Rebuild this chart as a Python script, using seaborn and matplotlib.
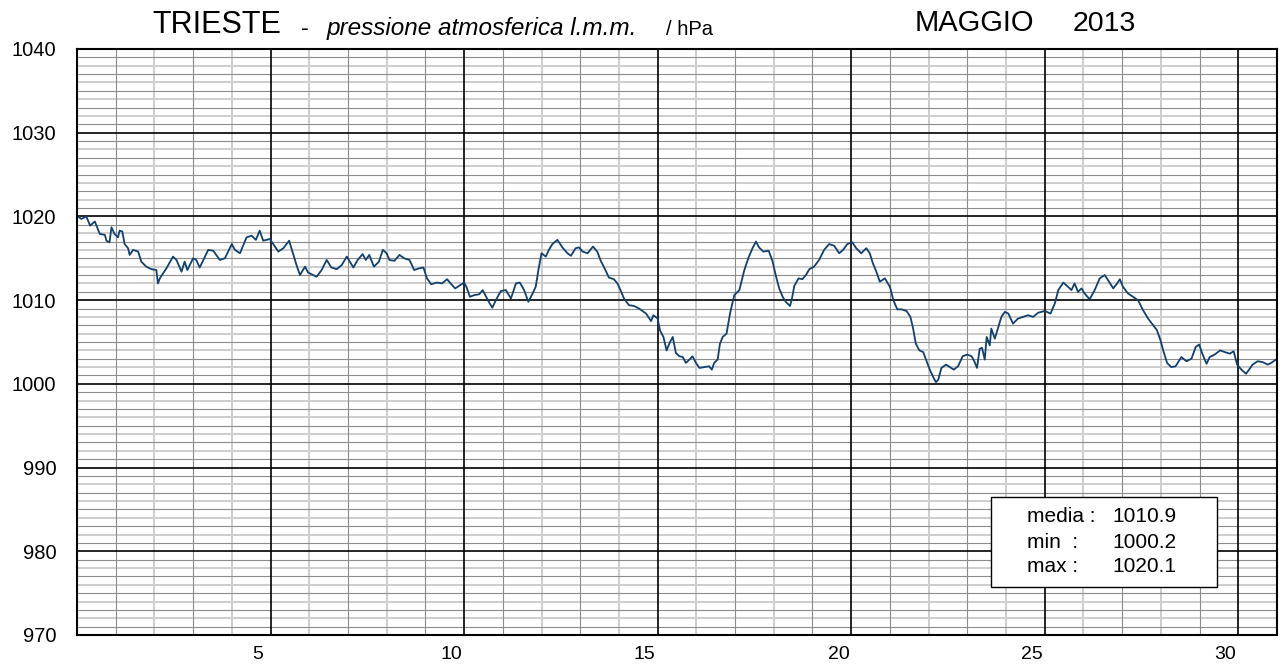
import matplotlib
matplotlib.use("Agg")
import matplotlib.pyplot as plt
import pandas as pd
import seaborn as sns
from matplotlib.patches import Rectangle

# ---- data ----
day = [0.00, 0.11, 0.24, 0.34, 0.46, 0.59, 0.72, 0.76, 0.84, 0.89, 0.97, 1.06, 1.10, 1.17,
       1.23, 1.32, 1.36, 1.45, 1.58, 1.66, 1.79, 1.92, 2.05, 2.09, 2.14, 2.31, 2.48, 2.57,
       2.70, 2.78, 2.85, 3.00, 3.08, 3.17, 3.39, 3.52, 3.69, 3.82, 4.00, 4.08, 4.21, 4.38,
       4.51, 4.62, 4.72, 4.81, 4.98, 5.07, 5.20, 5.33, 5.48, 5.59, 5.67, 5.76, 5.89, 5.97,
       6.10, 6.19, 6.32, 6.45, 6.57, 6.71, 6.84, 6.97, 7.14, 7.25, 7.38, 7.46, 7.55, 7.67,
       7.80, 7.90, 8.00, 8.07, 8.20, 8.33, 8.45, 8.59, 8.71, 8.84, 8.95, 9.04, 9.15, 9.30,
       9.43, 9.56, 9.65, 9.77, 9.87, 10.00, 10.06, 10.15, 10.26, 10.39, 10.48, 10.56, 10.65,
       10.73, 10.82, 10.95, 11.08, 11.21, 11.34, 11.44, 11.55, 11.66, 11.77, 11.85, 11.92,
       12.00, 12.11, 12.19, 12.28, 12.41, 12.54, 12.67, 12.76, 12.88, 12.97, 13.06, 13.19,
       13.33, 13.44, 13.53, 13.64, 13.74, 13.87, 13.96, 14.04, 14.13, 14.26, 14.39, 14.52,
       14.70, 14.83, 14.89, 15.00, 15.06, 15.15, 15.23, 15.32, 15.39, 15.47, 15.56, 15.65,
       15.73, 15.82, 15.90, 15.99, 16.08, 16.20, 16.33, 16.40, 16.46, 16.55, 16.61, 16.68,
       16.78, 16.87, 16.98, 17.11, 17.24, 17.35, 17.45, 17.54, 17.62, 17.73, 17.87, 17.97,
       18.06, 18.14, 18.23, 18.31, 18.42, 18.47, 18.53, 18.64, 18.74, 18.83, 18.92, 19.04,
       19.17, 19.30, 19.43, 19.56, 19.69, 19.79, 19.90, 20.03, 20.13, 20.26, 20.39, 20.48,
       20.56, 20.65, 20.74, 20.87, 21.00, 21.09, 21.19, 21.30, 21.43, 21.53, 21.60, 21.67,
       21.76, 21.86, 21.95, 22.03, 22.12, 22.19, 22.25, 22.33, 22.45, 22.55, 22.65, 22.76,
       22.88, 23.00, 23.11, 23.18, 23.25, 23.32, 23.38, 23.45, 23.50, 23.58, 23.62, 23.71,
       23.80, 23.88, 23.97, 24.06, 24.18, 24.31, 24.44, 24.57, 24.70, 24.83, 25.00, 25.15,
       25.26, 25.35, 25.48, 25.60, 25.69, 25.77, 25.86, 25.95, 26.03, 26.16, 26.29, 26.42,
       26.55, 26.66, 26.77, 26.87, 26.94, 27.02, 27.15, 27.28, 27.41, 27.54, 27.67, 27.80,
       27.90, 27.99, 28.06, 28.16, 28.27, 28.38, 28.53, 28.66, 28.79, 28.90, 28.99, 29.07,
       29.18, 29.26, 29.39, 29.53, 29.65, 29.78, 29.88, 29.97, 30.08, 30.20, 30.37, 30.50,
       30.63, 30.76, 30.85, 30.97]
pressure = [1020.1, 1019.7, 1020.0, 1018.9, 1019.4, 1017.9, 1017.8, 1017.1, 1016.9, 1018.7,
            1017.9, 1017.5, 1018.3, 1018.2, 1016.7, 1016.2, 1015.4, 1016.0, 1015.8, 1014.6,
            1014.0, 1013.7, 1013.6, 1012.0, 1012.6, 1013.8, 1015.2, 1014.8, 1013.4, 1014.6,
            1013.6, 1015.0, 1014.8, 1013.9, 1016.0, 1015.9, 1014.8, 1015.0, 1016.7, 1016.0,
            1015.6, 1017.5, 1017.7, 1017.2, 1018.3, 1017.1, 1017.3, 1016.7, 1015.8, 1016.2,
            1017.1, 1015.4, 1014.2, 1013.0, 1014.0, 1013.3, 1013.0, 1012.8, 1013.6, 1014.8,
            1013.9, 1013.7, 1014.2, 1015.2, 1013.9, 1014.8, 1015.5, 1014.8, 1015.4, 1014.0,
            1014.6, 1016.0, 1015.6, 1014.8, 1014.7, 1015.4, 1015.0, 1014.8, 1013.6, 1013.8,
            1013.9, 1012.6, 1011.9, 1012.1, 1012.0, 1012.5, 1012.0, 1011.4, 1011.7, 1012.1,
            1011.6, 1010.4, 1010.6, 1010.7, 1011.2, 1010.5, 1009.7, 1009.1, 1010.0, 1011.1,
            1011.2, 1010.2, 1012.0, 1012.1, 1011.2, 1009.8, 1010.8, 1011.6, 1013.6, 1015.6,
            1015.2, 1016.0, 1016.7, 1017.2, 1016.3, 1015.6, 1015.3, 1016.2, 1016.3, 1015.8,
            1015.6, 1016.4, 1015.8, 1014.7, 1013.7, 1012.7, 1012.5, 1012.0, 1011.2, 1010.2,
            1009.4, 1009.3, 1009.0, 1008.4, 1007.5, 1008.2, 1007.8, 1006.4, 1005.6, 1004.0,
            1005.0, 1005.6, 1003.7, 1003.3, 1003.2, 1002.5, 1002.9, 1003.3, 1002.5, 1001.9,
            1002.0, 1002.1, 1001.7, 1002.5, 1002.9, 1004.8, 1005.6, 1006.0, 1008.4, 1010.6,
            1011.2, 1013.6, 1015.1, 1016.2, 1017.0, 1016.3, 1015.8, 1015.9, 1014.6, 1012.8,
            1011.4, 1010.4, 1009.8, 1009.3, 1010.2, 1011.7, 1012.6, 1012.5, 1013.0, 1013.7,
            1014.0, 1014.8, 1016.0, 1016.7, 1016.5, 1015.6, 1016.0, 1016.7, 1016.9, 1016.2,
            1015.6, 1016.2, 1015.6, 1014.4, 1013.4, 1012.2, 1012.6, 1011.6, 1010.0, 1008.9,
            1008.9, 1008.7, 1008.0, 1006.6, 1004.8, 1004.0, 1003.8, 1002.7, 1001.7, 1000.8,
            1000.2, 1000.5, 1001.9, 1002.3, 1002.0, 1001.7, 1002.1, 1003.3, 1003.5, 1003.3,
            1002.7, 1001.9, 1004.2, 1004.3, 1002.9, 1005.6, 1004.6, 1006.6, 1005.4, 1006.8,
            1008.0, 1008.6, 1008.4, 1007.2, 1007.8, 1008.0, 1008.2, 1008.0, 1008.5, 1008.7,
            1008.4, 1009.6, 1011.2, 1012.1, 1011.6, 1011.2, 1012.0, 1011.0, 1011.4, 1010.8,
            1010.1, 1011.2, 1012.6, 1013.0, 1012.2, 1011.4, 1012.0, 1012.5, 1011.6, 1010.8,
            1010.4, 1010.0, 1008.8, 1007.8, 1007.0, 1006.4, 1005.2, 1004.0, 1002.5, 1002.0,
            1002.1, 1003.2, 1002.7, 1003.0, 1004.4, 1004.7, 1003.6, 1002.4, 1003.2, 1003.5,
            1004.0, 1003.8, 1003.6, 1003.9, 1002.3, 1001.7, 1001.2, 1002.3, 1002.7, 1002.6,
            1002.3, 1002.5, 1002.9]
day_labels = [5, 10, 15, 20, 25, 30]
y_ticks = [970, 980, 990, 1000, 1010, 1020, 1030, 1040]
stat_names = ["media :", "min  :", "max :"]
stat_values = ["1010.9", "1000.2", "1020.1"]

W, H = 1285, 665

def fx(px):
    return px / W

def fy(py):
    return 1 - py / H

sns.set_theme(style="white")
plt.rcParams['font.family'] = ['Liberation Sans', 'DejaVu Sans']
plt.rcParams['text.color'] = 'black'
plt.rcParams['xtick.color'] = 'black'
plt.rcParams['ytick.color'] = 'black'

fig = plt.figure(figsize=(W / 100, H / 100), dpi=100)
fig.patch.set_facecolor('white')
ax = fig.add_axes([fx(77), fy(635), (1277 - 77) / W, (635 - 49) / H])
ax.set_facecolor('white')
ax.set_xlim(0, 31)
ax.set_ylim(970, 1040)

# grid
for v in range(971, 1040):
    if v % 10 == 0:
        ax.axhline(v, color='black', lw=1.2, zorder=1.2)
    elif v % 2:
        ax.axhline(v, color='#8c8c8c', lw=0.8, zorder=1.1)
    else:
        ax.axhline(v, color='#cdcdcd', lw=1.4, zorder=1.0)
for d in range(1, 31):
    if d % 5 == 0:
        ax.axvline(d, color='black', lw=1.2, zorder=1.2)
    elif d % 2:
        ax.axvline(d, color='#8c8c8c', lw=0.8, zorder=1.1)
    else:
        ax.axvline(d, color='#cdcdcd', lw=1.4, zorder=1.0)

df = pd.DataFrame({'day': day, 'pressure': pressure})
sns.lineplot(data=df, x='day', y='pressure', color='#12406f', lw=1.3, ax=ax,
             zorder=3, sort=False)
ax.set_xlabel('')
ax.set_ylabel('')

ax.set_xticks([d - 0.33 for d in day_labels])
ax.set_xticklabels([str(d) for d in day_labels], fontsize=14)
ax.set_yticks(y_ticks)
ax.set_yticklabels([str(v) for v in y_ticks], fontsize=14.5)
ax.tick_params(axis='x', length=0, pad=8, colors='black')
ax.tick_params(axis='y', length=0, pad=15, colors='black')
for s in ax.spines.values():
    s.set_visible(True)
    s.set_color('black')
    s.set_linewidth(1.5)
    s.set_zorder(4)

# title pieces
fig.text(fx(152), fy(33), "TRIESTE", fontsize=22, ha='left', va='baseline', color='black')
fig.text(fx(301), fy(35), "-", fontsize=17, ha='left', va='baseline', color='black')
fig.text(fx(327), fy(35), "pressione atmosferica l.m.m.", fontsize=17.5,
         style='italic', ha='left', va='baseline', color='black')
fig.text(fx(666), fy(35), "/ hPa", fontsize=14.5, ha='left', va='baseline', color='black')
fig.text(fx(915), fy(31), "MAGGIO", fontsize=21, ha='left', va='baseline', color='black')
fig.text(fx(1073), fy(31), "2013", fontsize=20.5, ha='left', va='baseline', color='black')

# stats box
box = Rectangle((fx(991), fy(587)), (1217 - 991) / W, (587 - 497) / H,
                transform=fig.transFigure, facecolor='white', edgecolor='black',
                lw=1.0, zorder=5)
fig.patches.append(box)
for i, (nm, val) in enumerate(zip(stat_names, stat_values)):
    yy = 517 + 25 * i
    fig.text(fx(1027), fy(yy), nm, fontsize=15, ha='left', va='center', zorder=6,
             color='black')
    fig.text(fx(1112), fy(yy), val, fontsize=15, ha='left', va='center', zorder=6,
             color='black')

fig.savefig('out.png', dpi=100, facecolor='white')
